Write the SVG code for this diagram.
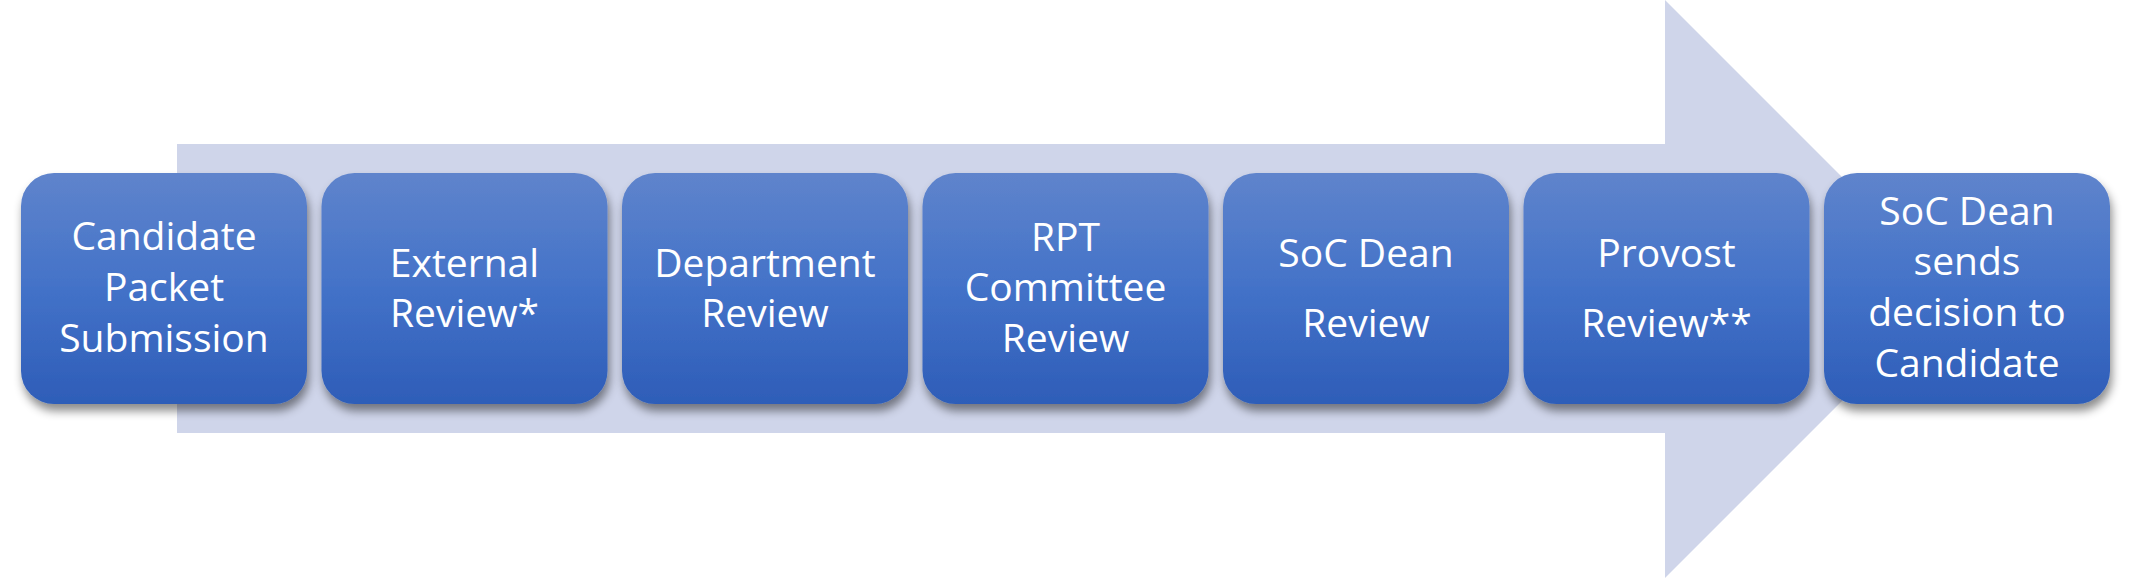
<svg xmlns="http://www.w3.org/2000/svg" width="2131" height="578" viewBox="0 0 2131 578">
<defs>
<linearGradient id="g" x1="0" y1="0" x2="0" y2="1">
<stop offset="0" stop-color="#5f84cc"/>
<stop offset="0.5" stop-color="#4372c8"/>
<stop offset="1" stop-color="#2e5db8"/>
</linearGradient>
<filter id="sh" x="-10%" y="-10%" width="125%" height="130%">
<feDropShadow dx="2" dy="7" stdDeviation="5" flood-color="#000" flood-opacity="0.45"/>
</filter>
<style>
.box{fill:url(#g);filter:url(#sh);}
.t{fill:#fff;font-family:"Open Sans","Noto Sans",sans-serif;font-size:39px;text-anchor:middle;}
</style>
</defs>
<rect width="2131" height="578" fill="#fff"/>
<g id="connectors">
<polygon points="177,144 1665,144 1665,0 1954,289 1665,578 1665,433 177,433" fill="#cfd5ea"/>
</g>
<g id="n1"><rect class="box" x="21" y="173" width="286" height="231" rx="33"/>
<text class="t"><tspan x="164" y="250">Candidate</tspan><tspan x="164" y="301">Packet</tspan><tspan x="164" y="352">Submission</tspan></text></g>
<g id="n2"><rect class="box" x="321.5" y="173" width="286" height="231" rx="33"/>
<text class="t"><tspan x="464.5" y="277">External</tspan><tspan x="464.5" y="327">Review*</tspan></text></g>
<g id="n3"><rect class="box" x="622" y="173" width="286" height="231" rx="33"/>
<text class="t"><tspan x="765" y="277">Department</tspan><tspan x="765" y="327">Review</tspan></text></g>
<g id="n4"><rect class="box" x="922.5" y="173" width="286" height="231" rx="33"/>
<text class="t"><tspan x="1065.5" y="251">RPT</tspan><tspan x="1065.5" y="301">Committee</tspan><tspan x="1065.5" y="352">Review</tspan></text></g>
<g id="n5"><rect class="box" x="1223" y="173" width="286" height="231" rx="33"/>
<text class="t"><tspan x="1366" y="267">SoC Dean</tspan><tspan x="1366" y="337">Review</tspan></text></g>
<g id="n6"><rect class="box" x="1523.5" y="173" width="286" height="231" rx="33"/>
<text class="t"><tspan x="1666.5" y="267">Provost</tspan><tspan x="1666.5" y="337">Review**</tspan></text></g>
<g id="n7"><rect class="box" x="1824" y="173" width="286" height="231" rx="33"/>
<text class="t"><tspan x="1967" y="225">SoC Dean</tspan><tspan x="1967" y="275">sends</tspan><tspan x="1967" y="326">decision to</tspan><tspan x="1967" y="377">Candidate</tspan></text></g>
</svg>
